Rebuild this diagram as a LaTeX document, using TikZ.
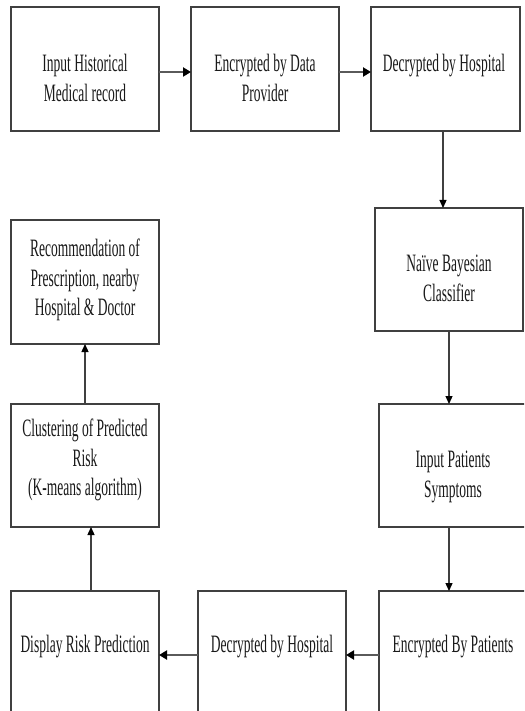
\documentclass[tikz,border=0pt]{standalone}
\usepackage{fontspec}
\newfontfamily\cfont[FakeStretch=0.54]{Liberation Serif}
\usetikzlibrary{arrows.meta}
\definecolor{edge}{HTML}{404040}
\definecolor{shaft}{HTML}{5A5A5A}
\begin{document}
\begin{tikzpicture}[x=1pt,y=-1pt,
  boxnode/.style={draw=edge, line width=1.3pt, minimum width=148pt, minimum height=124pt, inner sep=0pt, outer sep=0pt},
  txt/.style={font=\cfont\fontsize{25}{29.5}\selectfont, align=center, inner sep=0pt, anchor=north, text=black!90},
  harrow/.style={draw=shaft, line width=2.8pt, -{Triangle[length=8pt,width=9pt,color=black]}},
  varrow/.style={draw=edge, line width=1.3pt, -{Triangle[length=8pt,width=7pt,color=black]}}]
\fill[white] (0,0) rectangle (524,711);
\useasboundingbox (0,0) rectangle (524,711);
\clip (0,0) rectangle (524,711);
% boxes
\node[boxnode] (b1) at (85,69) {};
\node[boxnode] (b2) at (265,69) {};
\node[boxnode, minimum width=149pt] (b3) at (445.5,69) {};
\node[boxnode] (rec) at (85,282) {};
\node[boxnode, minimum height=123pt] (naive) at (449,269.5) {};
\node[boxnode, minimum height=123pt] (clust) at (85,465.5) {};
\node[boxnode, minimum height=123pt] (inp) at (453,465.5) {};
\node[boxnode] (disp) at (85,653) {};
\node[boxnode] (dec) at (272,653) {};
\node[boxnode] (enc) at (453,653) {};
% texts
\node[txt] (t1) at (85,54) {Input Historical\\Medical record};
\node[txt] (t2) at (265,54) {Encrypted by Data\\Provider};
\node[txt] (t3) at (444,54) {Decrypted by Hospital};
\node[txt] (t4) at (85,239) {Recommendation of\\Prescription, nearby\\Hospital \& Doctor};
\node[txt] (t5) at (449,255) {Naïve Bayesian\\Classifier};
\node[txt] (t6) at (85,419) {Clustering of Predicted\\Risk\\(K-means algorithm)};
\node[txt] (t7) at (453,451) {Input Patients\\Symptoms};
\node[txt] (t8) at (85,635) {Display Risk Prediction};
\node[txt] (t9) at (272,635) {Decrypted by Hospital};
\node[txt] (t10) at (453,635) {Encrypted By Patients};
% connectors
\draw[harrow] ([yshift=-3pt]b1.east) -- ([yshift=-3pt]b2.west);
\draw[harrow] ([yshift=-3pt]b2.east) -- ([yshift=-3pt]b3.west);
\draw[varrow] ([xshift=-2.5pt]b3.south) -- ([xshift=-6pt]naive.north);
\draw[varrow] (naive.south) -- ([xshift=-4pt]inp.north);
\draw[varrow] ([xshift=-4pt]inp.south) -- ([xshift=-4pt]enc.north);
\draw[harrow] ([yshift=-2pt]enc.west) -- ([yshift=-2pt]dec.east);
\draw[harrow] ([yshift=-2pt]dec.west) -- ([yshift=-2pt]disp.east);
\draw[varrow] ([xshift=6pt]disp.north) -- ([xshift=6pt]clust.south);
\draw[varrow] (clust.north) -- (rec.south);
\end{tikzpicture}
\end{document}
